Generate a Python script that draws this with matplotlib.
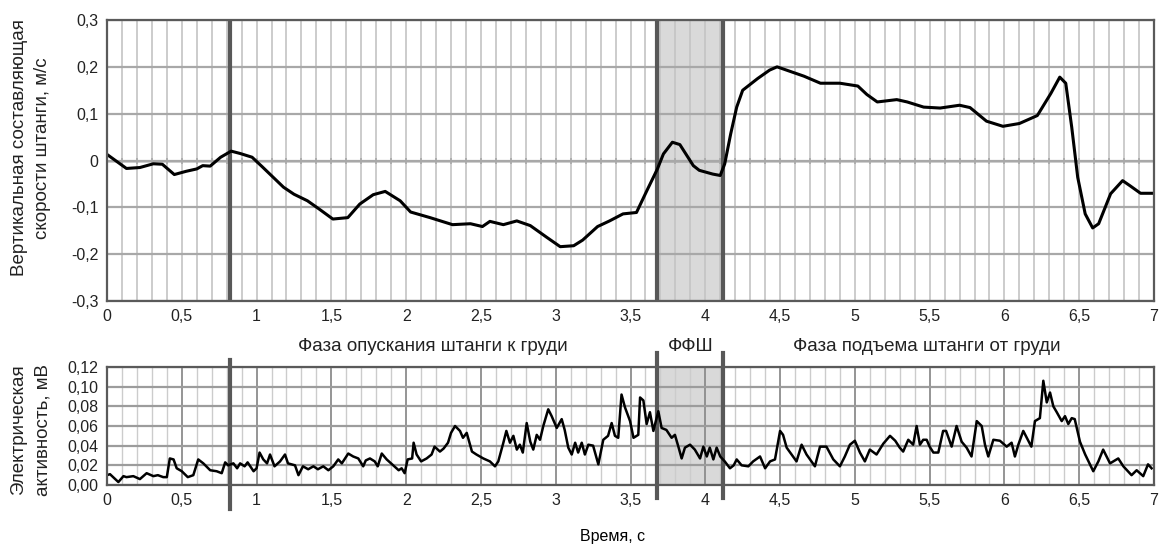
import numpy as np
import matplotlib.pyplot as plt
from matplotlib.ticker import FuncFormatter

plt.rcParams['font.family'] = ['Liberation Sans', 'DejaVu Sans']

# vertical bar speed, m/s  (time s, speed)
speed_points = [
    (0.0, 0.013), (0.13, -0.017), (0.22, -0.015), (0.31, -0.007), (0.37, -0.008),
    (0.45, -0.030), (0.53, -0.023), (0.60, -0.018), (0.64, -0.011), (0.69, -0.012),
    (0.76, 0.007), (0.83, 0.020), (0.89, 0.015), (0.97, 0.007), (1.04, -0.014),
    (1.18, -0.057), (1.25, -0.072), (1.34, -0.086), (1.42, -0.104), (1.51, -0.125),
    (1.61, -0.122), (1.69, -0.093), (1.78, -0.073), (1.86, -0.066), (1.96, -0.086),
    (2.03, -0.110), (2.16, -0.122), (2.31, -0.137), (2.43, -0.135), (2.51, -0.141),
    (2.56, -0.130), (2.65, -0.137), (2.74, -0.129), (2.83, -0.139), (2.94, -0.164),
    (3.03, -0.184), (3.12, -0.182), (3.18, -0.170), (3.28, -0.141), (3.36, -0.129),
    (3.45, -0.114), (3.54, -0.111), (3.61, -0.064), (3.68, -0.018), (3.72, 0.014),
    (3.78, 0.039), (3.83, 0.034), (3.92, -0.011), (3.96, -0.021), (4.05, -0.029),
    (4.10, -0.032), (4.13, -0.007), (4.17, 0.057), (4.21, 0.114), (4.25, 0.150),
    (4.35, 0.175), (4.43, 0.193), (4.48, 0.200), (4.57, 0.190), (4.66, 0.180),
    (4.77, 0.165), (4.90, 0.165), (5.02, 0.159), (5.08, 0.141), (5.15, 0.125),
    (5.28, 0.130), (5.35, 0.125), (5.46, 0.114), (5.57, 0.112), (5.70, 0.118),
    (5.77, 0.113), (5.88, 0.084), (5.99, 0.073), (6.10, 0.079), (6.22, 0.096),
    (6.31, 0.143), (6.37, 0.178), (6.41, 0.165), (6.45, 0.071), (6.49, -0.036),
    (6.54, -0.114), (6.59, -0.144), (6.63, -0.135), (6.71, -0.071), (6.79, -0.043),
    (6.84, -0.054), (6.91, -0.070), (7.0, -0.070),
]
t_speed = [p[0] for p in speed_points]
v_speed = [p[1] for p in speed_points]

# electrical activity, mV  (time s, value)
emg_points = [
    (0.0, 0.010), (0.02, 0.011), (0.076, 0.003), (0.11, 0.009), (0.13, 0.008),
    (0.176, 0.009), (0.22, 0.006), (0.265, 0.012), (0.31, 0.009), (0.34, 0.010),
    (0.376, 0.008), (0.40, 0.008), (0.42, 0.027), (0.445, 0.026), (0.466, 0.017),
    (0.50, 0.014), (0.54, 0.008), (0.577, 0.010), (0.61, 0.026), (0.644, 0.022),
    (0.69, 0.015), (0.733, 0.014), (0.767, 0.012), (0.79, 0.023), (0.81, 0.020),
    (0.845, 0.022), (0.87, 0.017), (0.89, 0.022), (0.92, 0.019), (0.94, 0.023),
    (0.98, 0.014), (1.0, 0.017), (1.02, 0.033), (1.045, 0.026), (1.07, 0.022),
    (1.09, 0.031), (1.12, 0.019), (1.157, 0.024), (1.19, 0.031), (1.21, 0.022),
    (1.257, 0.020), (1.28, 0.010), (1.31, 0.019), (1.345, 0.016), (1.38, 0.019),
    (1.41, 0.016), (1.446, 0.019), (1.48, 0.015), (1.513, 0.019), (1.546, 0.026),
    (1.57, 0.022), (1.613, 0.032), (1.646, 0.029), (1.68, 0.027), (1.713, 0.019),
    (1.73, 0.025), (1.758, 0.027), (1.79, 0.024), (1.81, 0.019), (1.837, 0.032),
    (1.87, 0.026), (1.914, 0.020), (1.95, 0.015), (1.97, 0.017), (1.99, 0.012),
    (2.01, 0.026), (2.04, 0.027), (2.05, 0.043), (2.07, 0.031), (2.10, 0.024),
    (2.137, 0.027), (2.17, 0.031), (2.19, 0.039), (2.226, 0.034), (2.25, 0.037),
    (2.28, 0.043), (2.30, 0.053), (2.327, 0.060), (2.36, 0.055), (2.38, 0.048),
    (2.405, 0.053), (2.44, 0.034), (2.47, 0.031), (2.516, 0.027), (2.56, 0.024),
    (2.594, 0.019), (2.616, 0.024), (2.65, 0.043), (2.67, 0.055), (2.694, 0.043),
    (2.717, 0.050), (2.74, 0.036), (2.76, 0.041), (2.78, 0.033), (2.806, 0.063),
    (2.83, 0.044), (2.85, 0.036), (2.873, 0.051), (2.895, 0.046), (2.917, 0.060),
    (2.95, 0.077), (2.973, 0.070), (3.007, 0.058), (3.04, 0.067), (3.06, 0.056),
    (3.084, 0.038), (3.107, 0.031), (3.13, 0.043), (3.15, 0.033), (3.174, 0.043),
    (3.195, 0.031), (3.218, 0.041), (3.25, 0.040), (3.285, 0.021), (3.318, 0.046),
    (3.35, 0.050), (3.374, 0.063), (3.396, 0.050), (3.418, 0.048), (3.44, 0.092),
    (3.463, 0.079), (3.497, 0.065), (3.52, 0.048), (3.552, 0.051), (3.564, 0.089),
    (3.586, 0.086), (3.608, 0.062), (3.63, 0.074), (3.653, 0.055), (3.686, 0.075),
    (3.708, 0.058), (3.74, 0.056), (3.775, 0.048), (3.797, 0.051), (3.82, 0.039),
    (3.842, 0.027), (3.864, 0.038), (3.898, 0.041), (3.93, 0.036), (3.965, 0.027),
    (3.987, 0.039), (4.01, 0.029), (4.03, 0.038), (4.054, 0.026), (4.076, 0.038),
    (4.10, 0.029), (4.13, 0.024), (4.165, 0.017), (4.19, 0.020), (4.21, 0.026),
    (4.243, 0.020), (4.288, 0.019), (4.32, 0.024), (4.366, 0.029), (4.40, 0.017),
    (4.433, 0.024), (4.466, 0.026), (4.50, 0.055), (4.52, 0.051), (4.544, 0.038),
    (4.577, 0.031), (4.61, 0.024), (4.644, 0.041), (4.677, 0.031), (4.71, 0.024),
    (4.733, 0.019), (4.767, 0.039), (4.81, 0.039), (4.856, 0.026), (4.90, 0.019),
    (4.933, 0.029), (4.967, 0.041), (5.0, 0.045), (5.034, 0.033), (5.067, 0.024),
    (5.10, 0.036), (5.145, 0.031), (5.19, 0.042), (5.235, 0.050), (5.27, 0.045),
    (5.30, 0.038), (5.323, 0.034), (5.357, 0.046), (5.39, 0.041), (5.413, 0.060),
    (5.435, 0.041), (5.457, 0.046), (5.48, 0.046), (5.50, 0.039), (5.525, 0.033),
    (5.558, 0.033), (5.59, 0.055), (5.61, 0.055), (5.647, 0.039), (5.68, 0.060),
    (5.714, 0.044), (5.747, 0.038), (5.78, 0.029), (5.815, 0.065), (5.848, 0.060),
    (5.87, 0.041), (5.892, 0.029), (5.926, 0.046), (5.97, 0.045), (6.015, 0.039),
    (6.048, 0.043), (6.07, 0.029), (6.093, 0.041), (6.126, 0.055), (6.16, 0.045),
    (6.18, 0.039), (6.204, 0.065), (6.237, 0.068), (6.26, 0.106), (6.283, 0.084),
    (6.305, 0.094), (6.327, 0.080), (6.35, 0.074), (6.383, 0.065), (6.405, 0.070),
    (6.427, 0.062), (6.45, 0.068), (6.47, 0.067), (6.505, 0.044), (6.54, 0.031),
    (6.594, 0.014), (6.628, 0.024), (6.66, 0.036), (6.706, 0.022), (6.761, 0.027),
    (6.795, 0.019), (6.85, 0.010), (6.884, 0.015), (6.928, 0.009), (6.96, 0.021),
    (6.984, 0.017),
]
t_emg = [p[0] for p in emg_points]
v_emg = [p[1] for p in emg_points]

phase_lines = [0.82, 3.68, 4.12]
phase_names = ["Фаза опускания штанги к груди", "ФФШ", "Фаза подъема штанги от груди"]
phase_label_x = [2.18, 3.90, 5.48]

LINE_COL = "#585858"
SHADE_COL = "#d9d9d9"


def fmt(dec):
    def f(v, pos):
        if abs(v) < 1e-9 and dec == 1:
            return "0"
        if dec == 0:
            return f"{v:g}".replace(".", ",")
        return f"{v:.{dec}f}".replace(".", ",")
    return FuncFormatter(f)


fig = plt.figure(figsize=(11.61, 5.47), dpi=100)
ax1 = fig.add_axes([107 / 1161, 1 - 301 / 547, 1047 / 1161, 281 / 547])
ax2 = fig.add_axes([107 / 1161, 1 - 485 / 547, 1047 / 1161, 118 / 547])

# top panel - bar speed
ax1.set_xlim(0, 7)
ax1.set_ylim(-0.3, 0.3)
ax1.axvspan(phase_lines[1], phase_lines[2], color=SHADE_COL, zorder=0)
ax1.set_xticks(np.arange(0, 7.01, 0.5))
ax1.set_xticks(np.arange(0, 7.01, 0.1), minor=True)
ax1.set_yticks(np.arange(-0.3, 0.31, 0.1))
ax1.xaxis.set_major_formatter(fmt(0))
ax1.yaxis.set_major_formatter(fmt(1))
ax1.grid(True, axis="x", which="both", color="#c4c4c4", lw=1.2)
ax1.grid(True, axis="y", which="major", color="#a8a8a8", lw=1.6)
ax1.axhline(0, color="#222222", lw=1, zorder=2)
zero_marks = np.arange(0, 7.01, 0.1)
ax1.plot(zero_marks, np.zeros_like(zero_marks), ls="none", marker="|", ms=5,
         mew=1.2, color="#222222", zorder=2)
for x in phase_lines:
    ax1.axvline(x, color=LINE_COL, lw=3, zorder=4)
ax1.plot(t_speed, v_speed, color="black", lw=2.2, zorder=5)
fig.text(31 / 1161, 1 - 148 / 547, "Вертикальная составляющая\nскорости штанги, м/с",
         rotation=90, ha="center", va="center", fontsize=13.5, linespacing=1.5,
         color="#222222")

# bottom panel - EMG
ax2.set_xlim(0, 7)
ax2.set_ylim(0, 0.12)
ax2.axvspan(phase_lines[1], phase_lines[2], color=SHADE_COL, zorder=0)
ax2.set_xticks(np.arange(0, 7.01, 0.5))
ax2.set_xticks(np.arange(0, 7.01, 0.1), minor=True)
ax2.set_yticks(np.arange(0, 0.121, 0.02))
ax2.xaxis.set_major_formatter(fmt(0))
ax2.yaxis.set_major_formatter(fmt(2))
ax2.grid(True, axis="x", which="minor", color="#cccccc", lw=1)
ax2.grid(True, axis="x", which="major", color="#8c8c8c", lw=1.3)
ax2.grid(True, axis="y", which="major", color="#9c9c9c", lw=1.6)
ax2.axvline(phase_lines[0], ymin=-0.2, ymax=1.06, color=LINE_COL, lw=3,
            zorder=4, clip_on=False)
for x in phase_lines[1:]:
    ax2.axvline(x, ymin=-0.11, ymax=1.12, color=LINE_COL, lw=3, zorder=4,
                clip_on=False)
ax2.plot(t_emg, v_emg, color="black", lw=1.8, zorder=5)
fig.text(31 / 1161, 1 - 430 / 547, "Электрическая\nактивность, мВ",
         rotation=90, ha="center", va="center", fontsize=13.5, linespacing=1.6,
         color="#222222")
ax2.set_xlabel("Время, с", fontsize=11.5)
ax2.xaxis.set_label_coords(3.38 / 7, -0.37)

for name, x in zip(phase_names, phase_label_x):
    ax2.text(x, 1.17, name, transform=ax2.get_xaxis_transform(), ha="center",
             va="center", fontsize=13.5, color="#222222")

for ax in (ax1, ax2):
    ax.set_axisbelow(False)
    for s in ax.spines.values():
        s.set_color("#5a5a5a")
        s.set_linewidth(1.6)
        s.set_zorder(6)
    ax.tick_params(which="both", length=0, labelsize=11.5, colors="#222222", pad=6)

fig.savefig("out.png", dpi=100, facecolor="white")
